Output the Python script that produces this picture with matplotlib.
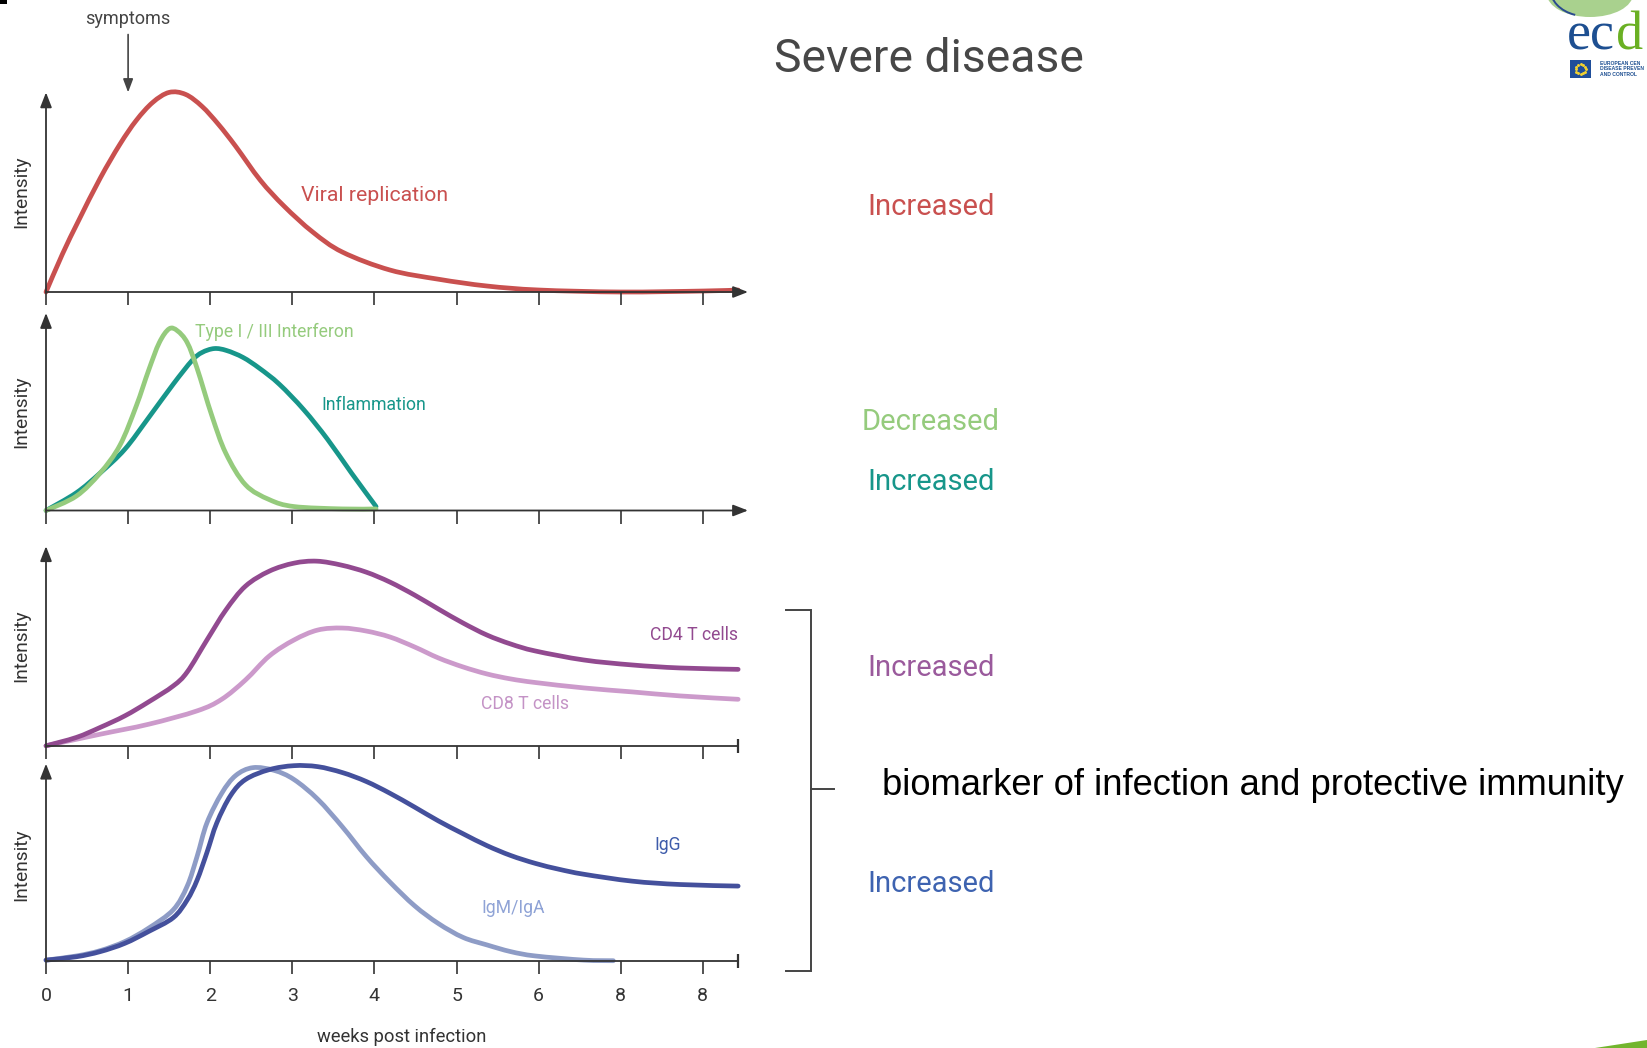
import numpy as np
import matplotlib
matplotlib.use("Agg")
import matplotlib.pyplot as plt
from matplotlib.patches import Rectangle, Ellipse, Polygon, Arc, PathPatch
from matplotlib.path import Path

plt.rcParams['font.family'] = ['Roboto', 'DejaVu Sans']

# ---------------- data (x in weeks, y = relative intensity) ----------------
tick_labels = ['0', '1', '2', '3', '4', '5', '6', '8', '8']

viral_x = [0, 0.2, 0.4, 0.66, 0.9, 1.1, 1.3, 1.5, 1.7, 1.9, 2.1, 2.31, 2.61, 2.9,
           3.25, 3.61, 4.19, 4.78, 5.37, 6.0, 7.0, 8.01, 8.43]
viral_y = [0, 0.19, 0.36, 0.57, 0.74, 0.86, 0.95, 1.0, 0.99, 0.93, 0.84, 0.73, 0.56, 0.43,
           0.30, 0.20, 0.11, 0.064, 0.03, 0.01, 0.0, 0.005, 0.01]

ifn_x = [0, 0.37, 0.66, 0.9, 1.1, 1.25, 1.38, 1.5, 1.6, 1.72, 1.84, 2.02, 2.19, 2.43, 2.72,
         3.02, 3.61, 4.02]
ifn_y = [0, 0.073, 0.19, 0.33, 0.53, 0.71, 0.85, 0.92, 0.91, 0.85, 0.72, 0.48, 0.29, 0.13, 0.055,
         0.02, 0.008, 0.008]

infl_x = [0, 0.37, 0.66, 0.96, 1.25, 1.55, 1.78, 1.9, 2.05, 2.2, 2.4, 2.6, 2.84, 3.14, 3.43,
          3.72, 4.02]
infl_y = [0, 0.09, 0.19, 0.31, 0.47, 0.64, 0.76, 0.80, 0.82, 0.81, 0.775, 0.72, 0.64, 0.51, 0.36,
          0.19, 0.02]

cd4_x = [0, 0.37, 0.66, 0.96, 1.25, 1.55, 1.72, 1.96, 2.19, 2.43, 2.72, 3.02, 3.3, 3.6,
         3.9, 4.19, 4.49, 4.78, 5.08, 5.37, 5.66, 5.96, 6.55, 7.14, 7.72, 8.43]
cd4_y = [0, 0.042, 0.092, 0.15, 0.22, 0.30, 0.37, 0.53, 0.68, 0.80, 0.875, 0.915, 0.925, 0.905,
         0.87, 0.82, 0.755, 0.685, 0.615, 0.555, 0.51, 0.475, 0.43, 0.405, 0.39, 0.383]

cd8_x = [0, 0.66, 1.25, 1.84, 2.14, 2.43, 2.72, 3.02, 3.31, 3.61, 3.9, 4.19, 4.49, 4.78,
         5.08, 5.37, 5.66, 5.96, 6.55, 7.14, 7.72, 8.43]
cd8_y = [0, 0.058, 0.108, 0.175, 0.233, 0.33, 0.45, 0.53, 0.58, 0.59, 0.575, 0.545, 0.495, 0.44,
         0.395, 0.36, 0.335, 0.317, 0.29, 0.27, 0.25, 0.233]

igg_x = [0, 0.37, 0.66, 0.96, 1.25, 1.55, 1.72, 1.84, 1.96, 2.08, 2.25, 2.43, 2.72, 3.02,
         3.31, 3.61, 3.9, 4.19, 4.49, 4.78, 5.08, 5.37, 5.66, 5.96, 6.25, 6.55, 7.14, 7.72, 8.43]
igg_y = [0.005, 0.022, 0.048, 0.09, 0.15, 0.22, 0.31, 0.41, 0.55, 0.70, 0.84, 0.92, 0.97, 0.99,
         0.985, 0.955, 0.91, 0.85, 0.78, 0.71, 0.645, 0.585, 0.535, 0.495, 0.465, 0.44, 0.405,
         0.388, 0.38]

igm_x = [0, 0.37, 0.66, 0.96, 1.25, 1.55, 1.72, 1.84, 1.96, 2.14, 2.31, 2.52, 2.78, 3.02,
         3.31, 3.61, 3.9, 4.19, 4.49, 4.78, 5.08, 5.37, 5.66, 5.96, 6.55, 6.91]
igm_y = [0.005, 0.026, 0.053, 0.099, 0.167, 0.26, 0.38, 0.53, 0.70, 0.85, 0.94, 0.98, 0.966, 0.92,
         0.82, 0.68, 0.53, 0.40, 0.28, 0.19, 0.12, 0.082, 0.048, 0.026, 0.005, 0.002]

# ---------------- styling ----------------
W, H = 1647, 1048
AXC = '#333333'
C_VIRAL = '#C9504F'
C_IFN = '#95CB7D'
C_INFL = '#17968A'
C_CD4 = '#924A90'
C_CD8 = '#CC9ACB'
C_IGG = '#44509C'
C_IGM = '#8E9CC6'
LW = 3.4

fig = plt.figure(figsize=(W / 100, H / 100), dpi=100)
fig.patch.set_facecolor('white')

# overlay axes in pixel coordinates for decorations
ov = fig.add_axes([0, 0, 1, 1])
ov.set_xlim(0, W)
ov.set_ylim(H, 0)
ov.axis('off')

AX_L, AX_R = 46, 748
XMAX = 8.55


def smooth_curve(ax, xs, ys, color):
    """Draw the read points as one smooth line (Catmull-Rom rendered as cubic Beziers)."""
    p = np.column_stack([xs, ys]).astype(float)
    ext = np.vstack([p[0], p, p[-1]])
    verts = [tuple(p[0])]
    codes = [Path.MOVETO]
    for i in range(1, len(ext) - 2):
        p0, p1, p2, p3 = ext[i - 1], ext[i], ext[i + 1], ext[i + 2]
        c1 = p1 + (p2 - p0) / 6.0
        c2 = p2 - (p3 - p1) / 6.0
        verts += [tuple(c1), tuple(c2), tuple(p2)]
        codes += [Path.CURVE4] * 3
    patch = PathPatch(Path(verts, codes), fill=False, edgecolor=color, lw=LW,
                      capstyle='round', joinstyle='round', transform=ax.transData,
                      clip_on=False)
    ax.add_patch(patch)


def make_ax(bottom_px, top_px, arrow_right, xend=8.43):
    ax = fig.add_axes([AX_L / W, 1 - bottom_px / H, (AX_R - AX_L) / W, (bottom_px - top_px) / H])
    ax.set_xlim(0, XMAX)
    ax.set_ylim(0, 1)
    ax.patch.set_alpha(0)
    for s in ['top', 'right', 'left', 'bottom']:
        ax.spines[s].set_visible(False)
    ax.set_yticks([])
    ax.set_xticks(range(len(tick_labels)))
    ax.set_xticklabels(tick_labels)
    ax.tick_params(axis='x', direction='out', length=9, width=1.2, color=AXC,
                   labelbottom=False, labelsize=14, labelcolor=AXC, pad=10)
    ap = dict(arrowstyle='-|>,head_length=0.9,head_width=0.35', lw=1.3, color=AXC,
              shrinkA=0, shrinkB=0)
    ax.annotate('', xy=(0, 1), xytext=(0, 0), xycoords='axes fraction',
                textcoords='axes fraction', arrowprops=ap, annotation_clip=False)
    if arrow_right:
        ax.annotate('', xy=(1, 0), xytext=(0, 0), xycoords='axes fraction',
                    textcoords='axes fraction', arrowprops=ap, annotation_clip=False)
    else:
        ax.plot([0, xend], [0, 0], color=AXC, lw=1.3, clip_on=False, solid_capstyle='butt')
        ax.plot([xend], [0], marker='|', ms=10, mew=1.6, color=AXC, clip_on=False)
    return ax


# Panel 1: viral replication
ax1 = make_ax(292.0, 92.4, True)
smooth_curve(ax1, viral_x, viral_y, C_VIRAL)
ax1.text(3.10, 0.484, 'Viral replication', color=C_VIRAL, fontsize=15.3, ha='left', va='center')
ax1.annotate('', xy=(1.0, 1.0), xycoords=('data', 'axes fraction'),
             xytext=(1.0, 1.29), textcoords=('data', 'axes fraction'),
             arrowprops=dict(arrowstyle='-|>,head_length=0.8,head_width=0.3', lw=1.2,
                             color='#444444', shrinkA=0, shrinkB=0),
             annotation_clip=False)
ax1.text(1.0, 1.37, 'symptoms', transform=ax1.get_xaxis_transform(), ha='center',
         va='center', fontsize=13, color='#444444')

# Panel 2: interferon & inflammation
ax2 = make_ax(510.5, 313.0, True)
smooth_curve(ax2, infl_x, infl_y, C_INFL)
smooth_curve(ax2, ifn_x, ifn_y, C_IFN)
ax2.text(1.81, 0.904, 'Type I / III Interferon', color=C_IFN, fontsize=12.7, ha='left', va='center')
ax2.text(3.35, 0.532, 'Inflammation', color=C_INFL, fontsize=12.7, ha='left', va='center')

# Panel 3: T cells
ax3 = make_ax(745.8, 546.2, False)
smooth_curve(ax3, cd8_x, cd8_y, C_CD8)
smooth_curve(ax3, cd4_x, cd4_y, C_CD4)
ax3.text(8.43, 0.553, 'CD4 T cells', color=C_CD4, fontsize=12.7, ha='right', va='center')
ax3.text(5.30, 0.21, 'CD8 T cells', color='#C493C6', fontsize=12.7, ha='left', va='center')

# Panel 4: antibodies
ax4 = make_ax(961.1, 763.7, False)
smooth_curve(ax4, igm_x, igm_y, C_IGM)
smooth_curve(ax4, igg_x, igg_y, C_IGG)
ax4.tick_params(axis='x', labelbottom=True)
ax4.text(7.41, 0.59, 'IgG', color='#3D5BAA', fontsize=12.7, ha='left', va='center')
ax4.text(5.30, 0.27, 'IgM/IgA', color='#8FA3D6', fontsize=12.7, ha='left', va='center')

# axis titles
fig.text(402 / W, 1 - 1036.5 / H, 'weeks post infection', ha='center', va='center',
         fontsize=13.2, color=AXC)
for yc in [192.0, 411.8, 646.0, 864.5]:
    fig.text(21 / W, 1 - yc / H, 'Intensity', rotation=90, ha='center', va='center',
             fontsize=13.8, color=AXC)

# right-hand annotations
fig.text(929 / W, 1 - 59.0 / H, 'Severe disease', ha='center', va='center',
         fontsize=33.3, color='#474747')
status = [('Increased', C_VIRAL, 207.3), ('Decreased', C_IFN, 421.5),
          ('Increased', C_INFL, 481.5), ('Increased', '#9A5A9C', 667.5),
          ('Increased', '#3E63B0', 884.5)]
for txt, col, yc in status:
    fig.text(931 / W, 1 - yc / H, txt, ha='center', va='center', fontsize=21, color=col)

fig.text(882 / W, 1 - 785.6 / H, 'biomarker of infection and protective immunity',
         ha='left', va='center', fontsize=26.2, color='black', family='Liberation Sans')

# bracket
ov.plot([786, 811, 811, 786], [610, 610, 970.6, 970.6], color='#444444', lw=1.4,
        solid_joinstyle='miter')
ov.plot([811, 834], [789, 789], color='#444444', lw=1.4)

# cropped title fragment at top-left
ov.add_patch(Rectangle((0, 0), 7, 4, color='black', lw=0))

# ECDC logo (approximation)
ov.add_patch(Ellipse((1590, -6), 86, 46, color='#A9D18E', lw=0))
ov.add_patch(Arc((1600, -22), 110, 80, theta1=200, theta2=340, color='#2A4A8F', lw=1.6))
ov.add_patch(Arc((1585, -12), 70, 56, theta1=110, theta2=250, color='#2A4A8F', lw=1.4))
ov.add_patch(Arc((1612, -12), 50, 56, theta1=-80, theta2=-20, color='#2A4A8F', lw=1.2))
ov.text(1567, 50, 'ec', ha='left', va='baseline', fontsize=39, color='#1D4F91',
        family='Liberation Serif')
ov.text(1616, 50, 'd', ha='left', va='baseline', fontsize=39, color='#6AB023',
        family='Liberation Serif')
ov.add_patch(Rectangle((1570, 60), 21, 18, color='#1F4E9A', lw=0))
ang = np.linspace(0, 2 * np.pi, 12, endpoint=False)
ov.scatter(1580.5 + 5 * np.cos(ang), 69 + 5 * np.sin(ang), s=1.2, color='#F2D230', zorder=5)
for i, line in enumerate(['EUROPEAN CEN', 'DISEASE PREVEN', 'AND CONTROL']):
    ov.text(1600, 63.5 + i * 5.5, line, ha='left', va='center', fontsize=3.6,
            color='#1D4F91', weight='bold', family='Liberation Sans')

# bottom-right green swoosh
ov.add_patch(Polygon([(1595, 1048), (1647, 1040), (1647, 1048)], closed=True,
                     color='#72B52E', lw=0))

fig.savefig('out.png', dpi=100, facecolor='white')
